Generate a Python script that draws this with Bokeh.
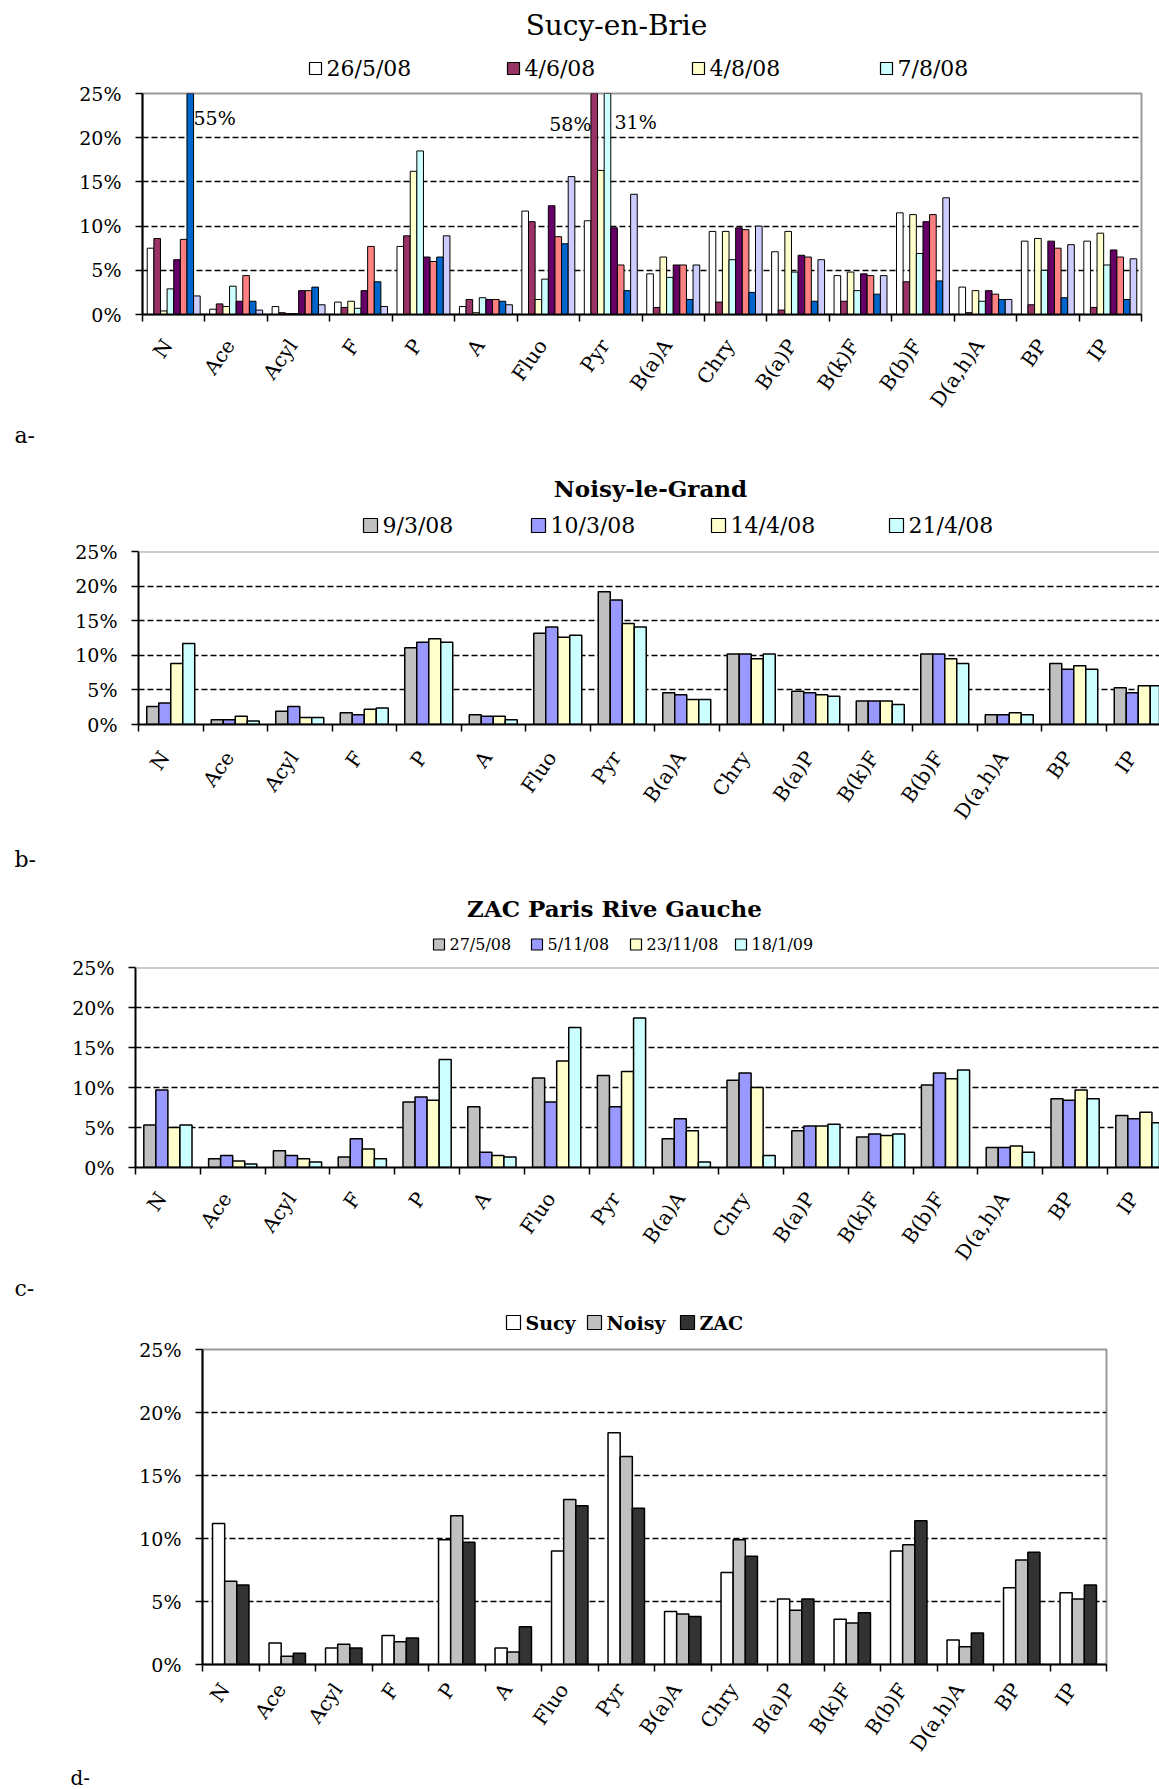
from bokeh.plotting import figure
from bokeh.models import (FixedTicker, PrintfTickFormatter, Label, Span, ColumnDataSource, Range1d)
from bokeh.core.properties import value
from bokeh.embed import file_html
from bokeh.resources import INLINE

FONT = "DejaVu Serif"

categories = ["N", "Ace", "Acyl", "F", "P", "A", "Fluo", "Pyr", "B(a)A", "Chry",
              "B(a)P", "B(k)F", "B(b)F", "D(a,h)A", "BP", "IP"]
y_ticks = [0, 5, 10, 15, 20, 25]

# ---- a- Sucy-en-Brie (8 samples, 4 in legend) ----
sucy_title = "Sucy-en-Brie"
sucy_labels = ["26/5/08", "4/6/08", "4/8/08", "7/8/08"]
sucy_1 = [7.5, 0.6, 0.9, 1.4, 7.7, 0.9, 11.7, 10.6, 4.6, 9.4, 7.1, 4.4, 11.5, 3.1, 8.3, 8.3]
sucy_2 = [8.6, 1.2, 0.2, 0.8, 8.9, 1.7, 10.5, 58.0, 0.8, 1.4, 0.5, 1.5, 3.7, 0.2, 1.1, 0.8]
sucy_3 = [0.4, 0.9, 0.1, 1.5, 16.2, 0.2, 1.7, 16.3, 6.5, 9.4, 9.4, 4.8, 11.3, 2.7, 8.6, 9.2]
sucy_4 = [2.9, 3.2, 0.1, 0.7, 18.5, 1.9, 4.0, 31.0, 4.2, 6.2, 4.8, 2.7, 6.9, 1.5, 5.0, 5.6]
sucy_5 = [6.2, 1.5, 2.7, 2.7, 6.5, 1.7, 12.3, 9.8, 5.6, 9.8, 6.7, 4.6, 10.5, 2.7, 8.3, 7.3]
sucy_6 = [8.5, 4.4, 2.7, 7.7, 6.0, 1.7, 8.8, 5.6, 5.6, 9.6, 6.5, 4.4, 11.3, 2.3, 7.5, 6.5]
sucy_7 = [55.0, 1.5, 3.1, 3.7, 6.5, 1.5, 8.0, 2.7, 1.7, 2.5, 1.5, 2.3, 3.8, 1.7, 1.9, 1.7]
sucy_8 = [2.1, 0.5, 1.1, 0.9, 8.9, 1.1, 15.6, 13.6, 5.6, 10.0, 6.2, 4.4, 13.2, 1.7, 7.9, 6.3]
sucy_colors = ["#FFFFFF", "#993366", "#FFFFCC", "#CCFFFF", "#660066", "#FF8080", "#0066CC", "#CCCCFF"]
sucy_off_chart = ["55%", "58%", "31%"]

# ---- b- Noisy-le-Grand ----
noisy_title = "Noisy-le-Grand"
noisy_labels = ["9/3/08", "10/3/08", "14/4/08", "21/4/08"]
noisy_1 = [2.6, 0.7, 1.9, 1.7, 11.1, 1.4, 13.2, 19.2, 4.6, 10.2, 4.8, 3.4, 10.2, 1.4, 8.8, 5.3]
noisy_2 = [3.1, 0.7, 2.6, 1.4, 11.9, 1.2, 14.1, 18.0, 4.3, 10.2, 4.6, 3.4, 10.2, 1.4, 8.0, 4.6]
noisy_3 = [8.8, 1.2, 1.0, 2.2, 12.4, 1.2, 12.6, 14.6, 3.6, 9.5, 4.3, 3.4, 9.5, 1.7, 8.5, 5.6]
noisy_4 = [11.7, 0.5, 1.0, 2.4, 11.9, 0.7, 12.9, 14.1, 3.6, 10.2, 4.1, 2.9, 8.8, 1.4, 8.0, 5.6]

# ---- c- ZAC Paris Rive Gauche ----
zac_title = "ZAC Paris Rive Gauche"
zac_labels = ["27/5/08", "5/11/08", "23/11/08", "18/1/09"]
zac_1 = [5.3, 1.1, 2.1, 1.3, 8.2, 7.6, 11.2, 11.5, 3.6, 10.9, 4.6, 3.8, 10.3, 2.5, 8.6, 6.5]
zac_2 = [9.7, 1.5, 1.5, 3.6, 8.8, 1.9, 8.2, 7.6, 6.1, 11.8, 5.2, 4.2, 11.8, 2.5, 8.4, 6.1]
zac_3 = [5.0, 0.8, 1.1, 2.3, 8.4, 1.5, 13.3, 12.0, 4.6, 10.0, 5.2, 4.0, 11.1, 2.7, 9.7, 6.9]
zac_4 = [5.3, 0.45, 0.7, 1.1, 13.5, 1.3, 17.5, 18.7, 0.7, 1.5, 5.4, 4.2, 12.2, 1.9, 8.6, 5.6]
date_colors = ["#C0C0C0", "#9999FF", "#FFFFCC", "#CCFFFF"]

# ---- d- site means ----
site_labels = ["Sucy", "Noisy", "ZAC"]
mean_sucy = [11.2, 1.7, 1.3, 2.3, 9.9, 1.3, 9.0, 18.4, 4.2, 7.3, 5.2, 3.6, 9.0, 1.95, 6.1, 5.7]
mean_noisy = [6.6, 0.65, 1.6, 1.8, 11.8, 1.0, 13.1, 16.5, 4.0, 9.9, 4.3, 3.3, 9.5, 1.4, 8.3, 5.2]
mean_zac = [6.3, 0.9, 1.3, 2.1, 9.7, 3.0, 12.6, 12.4, 3.8, 8.6, 5.2, 4.1, 11.4, 2.5, 8.9, 6.3]
site_colors = ["#FFFFFF", "#C0C0C0", "#333333"]

panel_letters = ["a-", "b-", "c-", "d-"]

PAGE_W = 1159
LABEL_ANGLE = 0.96  # radians (~55 degrees)


def strip(top, height):
    """A figure without axes whose data coordinates are page pixels."""
    g = figure(width=PAGE_W, height=height, x_range=Range1d(0, PAGE_W),
               y_range=Range1d(top + height, top), x_axis_location=None,
               y_axis_location=None, toolbar_location=None, output_backend="svg",
               min_border_left=0, min_border_right=0, min_border_top=0,
               min_border_bottom=0)
    g.grid.visible = False
    g.outline_line_color = None
    g.background_fill_color = "white"
    g.border_fill_color = "white"
    return g


def strip_text(g, xs, ys, texts, size, align="left", bold=False):
    g.text(x=xs, y=ys, text=texts, text_font=value(FONT), text_font_size=value(size),
           text_align=value(align), text_baseline=value("middle"), text_color="black",
           text_font_style=value("bold" if bold else "normal"))


def strip_legend(g, sq_lefts, cy, size, labels, colors, font_size, bold=False):
    g.quad(left=sq_lefts, right=[x + size for x in sq_lefts],
           top=[cy - size / 2] * len(sq_lefts), bottom=[cy + size / 2] * len(sq_lefts),
           fill_color=colors, line_color="black", line_width=1.2)
    strip_text(g, [x + size + 5 for x in sq_lefts], [cy] * len(sq_lefts), labels,
               font_size, bold=bold)


def make_panel(fig_top, height, fl, ft, fb, fr, x_end, series, colors, bar_w, lw,
               standoff, outline=True):
    p = figure(width=PAGE_W, height=height, x_range=Range1d(0, x_end),
               y_range=Range1d(0, 25), output_backend="svg", toolbar_location=None,
               min_border_left=fl, min_border_right=PAGE_W - fr,
               min_border_top=ft - fig_top, min_border_bottom=fig_top + height - fb)
    p.background_fill_color = "white"
    p.border_fill_color = "white"
    n = len(series)
    for k, (vals, col) in enumerate(zip(series, colors)):
        xs = [i + 0.5 + (k - (n - 1) / 2) * bar_w for i in range(len(vals))]
        src = ColumnDataSource(dict(x=xs, top=vals))
        p.vbar(x="x", top="top", width=bar_w, source=src, fill_color=col,
               line_color="black", line_width=lw)
    p.xgrid.visible = False
    p.ygrid.ticker = FixedTicker(ticks=[5, 10, 15, 20])
    p.ygrid.grid_line_color = "black"
    p.ygrid.grid_line_dash = "6 3"
    p.ygrid.grid_line_width = 1.5
    yax = p.yaxis[0]
    yax.ticker = FixedTicker(ticks=y_ticks)
    yax.formatter = PrintfTickFormatter(format="%d%%")
    yax.axis_line_width = 2
    yax.major_tick_out = 7
    yax.major_tick_in = 0
    yax.major_tick_line_width = 1.5
    yax.minor_tick_line_color = None
    yax.major_label_standoff = 14
    yax.major_label_text_font = FONT
    yax.major_label_text_font_size = "19px"
    yax.major_label_text_color = "black"
    # category labels sit slightly left of the group centre, separators at the edges
    shift = -6 * x_end / (fr - fl)
    label_pos = [i + 0.5 + shift for i in range(len(categories))]
    xax = p.xaxis[0]
    xax.ticker = FixedTicker(ticks=label_pos, minor_ticks=list(range(len(categories) + 1)))
    xax.major_label_overrides = {t: c for t, c in zip(label_pos, categories)}
    xax.major_label_orientation = LABEL_ANGLE
    xax.axis_line_width = 2
    xax.major_tick_line_color = None
    xax.major_tick_out = 0
    xax.major_tick_in = 0
    xax.minor_tick_out = 7
    xax.minor_tick_in = 0
    xax.minor_tick_line_color = "black"
    xax.minor_tick_line_width = 1.5
    xax.major_label_standoff = standoff
    xax.major_label_text_font = FONT
    xax.major_label_text_font_size = "20px"
    xax.major_label_text_color = "black"
    if outline:
        p.outline_line_color = "#999999"
        p.outline_line_width = 2
    else:
        p.outline_line_color = None
        p.add_layout(Span(location=25, dimension="width", line_color="#999999",
                          line_width=2))

    def dx(px):
        return (px - fl) / (fr - fl) * x_end

    def dy(py):
        return (fb - py) / (fb - ft) * 25

    return p, dx, dy


def add_label(p, dx, dy, px, py, text, size, align="left"):
    p.add_layout(Label(x=dx(px), y=dy(py), text=text, text_align=align,
                       text_baseline="middle", text_font=FONT,
                       text_font_size=size, text_color="black"))


# ---------- strip 0: title + legend of a ----------
g0 = strip(0, 82)
strip_text(g0, [616], [25], [sucy_title], "28px", align="center")
strip_legend(g0, [309, 507, 692, 880], 68, 12, sucy_labels, sucy_colors[:4], "22px")

# ---------- panel a ----------
pa, dxa, dya = make_panel(82, 339, 142, 93, 314, 1141, 16,
                          [sucy_1, sucy_2, sucy_3, sucy_4, sucy_5, sucy_6, sucy_7, sucy_8],
                          sucy_colors, 0.106, 1, 20)
add_label(pa, dxa, dya, 193, 117, sucy_off_chart[0], "19px")
add_label(pa, dxa, dya, 591, 123, sucy_off_chart[1], "19px", align="right")
add_label(pa, dxa, dya, 614, 121, sucy_off_chart[2], "19px")

# ---------- strip 1: a-, title + legend of b ----------
g1 = strip(421, 118)
strip_text(g1, [14], [435], [panel_letters[0]], "22px")
strip_text(g1, [650], [488], [noisy_title], "23px", align="center", bold=True)
strip_legend(g1, [363, 531, 711, 889], 525, 14, noisy_labels, date_colors, "22px")

# ---------- panel b ----------
pb, dxb, dyb = make_panel(539, 306, 138, 551, 724, 1159, (1159 - 138) / 64.5,
                          [noisy_1, noisy_2, noisy_3, noisy_4], date_colors, 0.186, 1.5,
                          22, outline=False)

# ---------- strip 2: b-, title + legend of c ----------
g2 = strip(845, 110)
strip_text(g2, [14], [859], [panel_letters[1]], "22px")
strip_text(g2, [614], [908], [zac_title], "23px", align="center", bold=True)
strip_legend(g2, [433, 531, 630, 735], 944, 11, zac_labels, date_colors, "16px")

# ---------- panel c ----------
pc, dxc, dyc = make_panel(955, 319, 135, 967, 1167, 1159, (1159 - 135) / 64.8,
                          [zac_1, zac_2, zac_3, zac_4], date_colors, 0.186, 1.5,
                          20, outline=False)

# ---------- strip 3: c-, legend of d ----------
g3 = strip(1274, 62)
strip_text(g3, [14], [1288], [panel_letters[2]], "22px")
strip_legend(g3, [506, 587, 680], 1322, 14, site_labels, site_colors, "19px", bold=True)

# ---------- panel d ----------
pd_, dxd, dyd = make_panel(1336, 429, 202, 1349, 1664, 1106, 16,
                           [mean_sucy, mean_noisy, mean_zac], site_colors, 0.215, 1.5,
                           14)

# ---------- strip 4: d- ----------
g4 = strip(1765, 24)
strip_text(g4, [70], [1777], [panel_letters[3]], "20px")

open("out.html", "w").write(file_html([g0, pa, g1, pb, g2, pc, g3, pd_, g4], INLINE))
